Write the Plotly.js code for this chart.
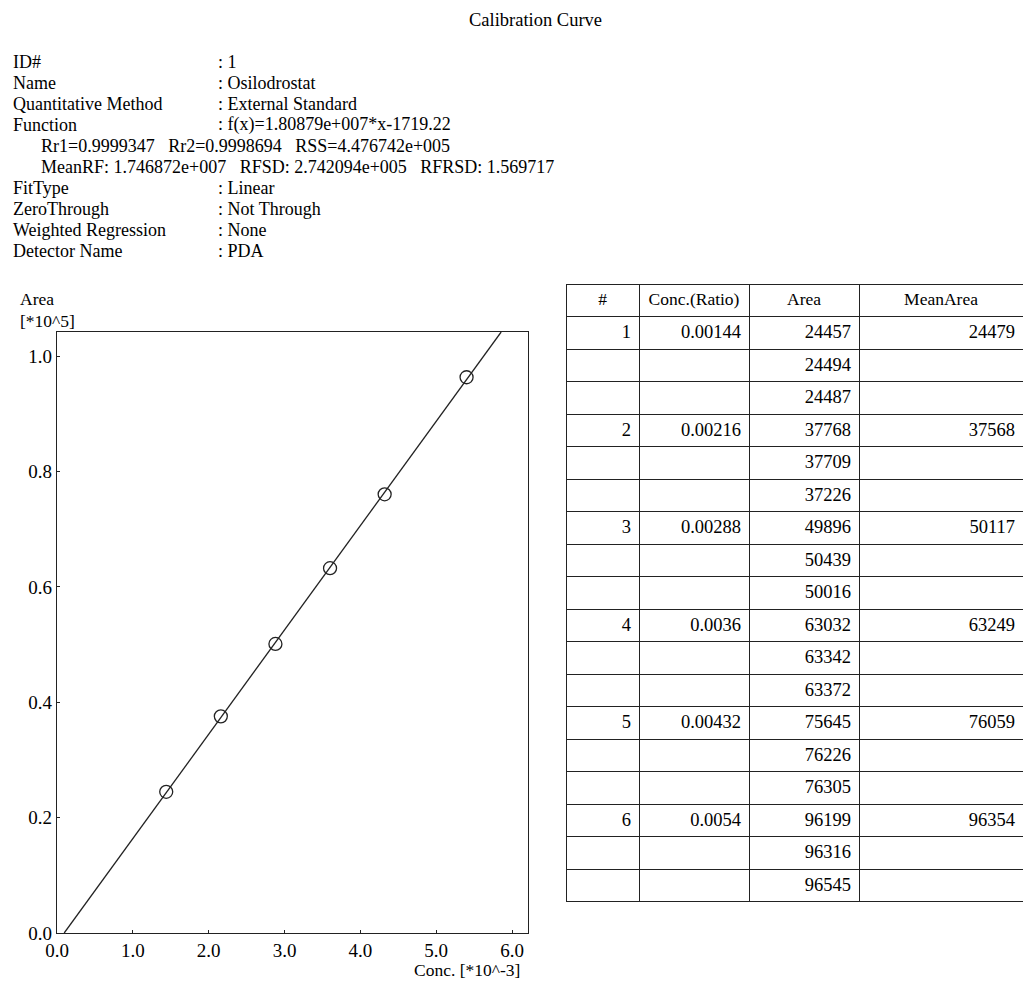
<!DOCTYPE html>
<html>
<head>
<meta charset="utf-8">
<script src="https://cdn.plot.ly/plotly-3.0.1.min.js"></script>
<style>html,body{margin:0;padding:0;background:#fff;}</style>
</head>
<body>
<div id="chart" style="width:1023px;height:981px;"></div>
<script>
// ---- data ----
const levelIds = [1, 2, 3, 4, 5, 6];
const concRatio = ["0.00144", "0.00216", "0.00288", "0.0036", "0.00432", "0.0054"];
const concValues = [0.00144, 0.00216, 0.00288, 0.0036, 0.00432, 0.0054];
const areaRep1 = [24457, 37768, 49896, 63032, 75645, 96199];
const areaRep2 = [24494, 37709, 50439, 63342, 76226, 96316];
const areaRep3 = [24487, 37226, 50016, 63372, 76305, 96545];
const meanArea = [24479, 37568, 50117, 63249, 76059, 96354];
const fitSlope = 1.80879e7;
const fitIntercept = -1719.22;
const xTickVals = [0, 1, 2, 3, 4, 5, 6];
const yTickVals = [0, 0.2, 0.4, 0.6, 0.8, 1.0];
const headerLabels = ["#", "Conc.(Ratio)", "Area", "MeanArea"];
const infoLabels = ["ID#", "Name", "Quantitative Method", "Function", "", "", "FitType", "ZeroThrough", "Weighted Regression", "Detector Name"];
const infoValues = [": 1", ": Osilodrostat", ": External Standard", ": f(x)=1.80879e+007*x-1719.22",
  "Rr1=0.9999347   Rr2=0.9998694   RSS=4.476742e+005",
  "MeanRF: 1.746872e+007   RFSD: 2.742094e+005   RFRSD: 1.569717",
  ": Linear", ": Not Through", ": None", ": PDA"];

// ---- scales ----
const xScale = 1e3, yScale = 1e5;
const xMax = 6.21, yMax = 1.042;
const W = 1023, H = 981;
const px = v => v / W, py = v => 1 - v / H;

const ptsX = concValues.map(v => v * xScale);
const ptsY = meanArea.map(v => v / yScale);
// regression line y = slope*x + intercept, in axis units
const a = fitSlope / xScale / yScale, b = fitIntercept / yScale;
const lx0 = (0 - b) / a, lx1 = (yMax - b) / a;
const lineX = [lx0, lx1];
const lineY = lineX.map(x => a * x + b);

// ---- table columns ----
const colId = [], colConc = [], colArea = [], colMean = [];
levelIds.forEach((id, i) => {
  [areaRep1[i], areaRep2[i], areaRep3[i]].forEach((ar, k) => {
    colId.push(k === 0 ? String(id) : "");
    colConc.push(k === 0 ? concRatio[i] : "");
    colArea.push(String(ar));
    colMean.push(k === 0 ? String(meanArea[i]) : "");
  });
});

const FONT = "Liberation Serif, Times New Roman, serif";

const traces = [
  {type: "scatter", mode: "lines", x: lineX, y: lineY, line: {color: "#222", width: 1.3}, hoverinfo: "skip", cliponaxis: true},
  {type: "scatter", mode: "markers", x: ptsX, y: ptsY,
   marker: {symbol: "circle-open", size: 13, color: "#222", line: {width: 1.3, color: "#222"}}, cliponaxis: false},
  {type: "table",
   domain: {x: [px(566), 1], y: [py(902), py(284)]},
   columnwidth: [73, 110, 110, 164],
   header: {values: headerLabels, align: "center", height: 32.5,
            line: {color: "#222", width: 1}, fill: {color: "#fff"},
            font: {family: FONT, size: 17.5, color: "#000"}},
   cells: {values: [colId, colConc, colArea, colMean], align: "right", height: 32.5,
           line: {color: "#222", width: 1}, fill: {color: "#fff"},
           font: {family: FONT, size: 18.5, color: "#000"}}}
];

const ann = [];
ann.push({text: "Calibration Curve", x: px(535), y: py(20), xref: "paper", yref: "paper",
  xanchor: "center", yanchor: "middle", showarrow: false, font: {family: FONT, size: 18.5, color: "#000"}});
const rowY = [62, 83, 104, 125, 146, 167, 188, 209, 230, 251];
infoLabels.forEach((lab, i) => {
  if (lab) ann.push({text: lab, x: px(11), y: py(rowY[i]), xref: "paper", yref: "paper",
    xanchor: "left", yanchor: "middle", showarrow: false, font: {family: FONT, size: 18, color: "#000"}});
  const indent = lab ? 216 : 39;
  ann.push({text: infoValues[i].replace(/ /g, "&nbsp;").replace(/&nbsp;(?=\S)/g, " "), x: px(indent), y: py(rowY[i]), xref: "paper", yref: "paper",
    xanchor: "left", yanchor: "middle", showarrow: false, font: {family: FONT, size: 18, color: "#000"}});
});
ann.push({text: "Area", x: px(18), y: py(299), xref: "paper", yref: "paper", xanchor: "left", yanchor: "middle",
  showarrow: false, font: {family: FONT, size: 17.5, color: "#000"}});
ann.push({text: "[*10^5]", x: px(18), y: py(321), xref: "paper", yref: "paper", xanchor: "left", yanchor: "middle",
  showarrow: false, font: {family: FONT, size: 17.5, color: "#000"}});
ann.push({text: "Conc. [*10^-3]", x: px(522), y: py(970), xref: "paper", yref: "paper", xanchor: "right", yanchor: "middle",
  showarrow: false, font: {family: FONT, size: 17.5, color: "#000"}});

const layout = {
  width: W, height: H, margin: {l: 0, r: 0, t: 0, b: 0},
  paper_bgcolor: "#fff", plot_bgcolor: "#fff", showlegend: false,
  font: {family: FONT, size: 18, color: "#000"},
  xaxis: {domain: [px(57), px(528)], range: [0, xMax], tickvals: xTickVals, tickformat: ".1f",
    showgrid: false, zeroline: false, showline: true, mirror: true, linecolor: "#222", linewidth: 1.2,
    ticks: "inside", ticklen: 3, tickcolor: "#222", tickfont: {family: FONT, size: 19, color: "#000"}, fixedrange: true},
  yaxis: {domain: [py(933), py(332)], range: [0, yMax], tickvals: yTickVals, tickformat: ".1f",
    showgrid: false, zeroline: false, showline: true, mirror: true, linecolor: "#222", linewidth: 1.2,
    ticks: "inside", ticklen: 3, tickcolor: "#222", tickfont: {family: FONT, size: 19, color: "#000"}, fixedrange: true},
  annotations: ann
};

Plotly.newPlot("chart", traces, layout, {displayModeBar: false, staticPlot: true});
</script>
</body>
</html>
